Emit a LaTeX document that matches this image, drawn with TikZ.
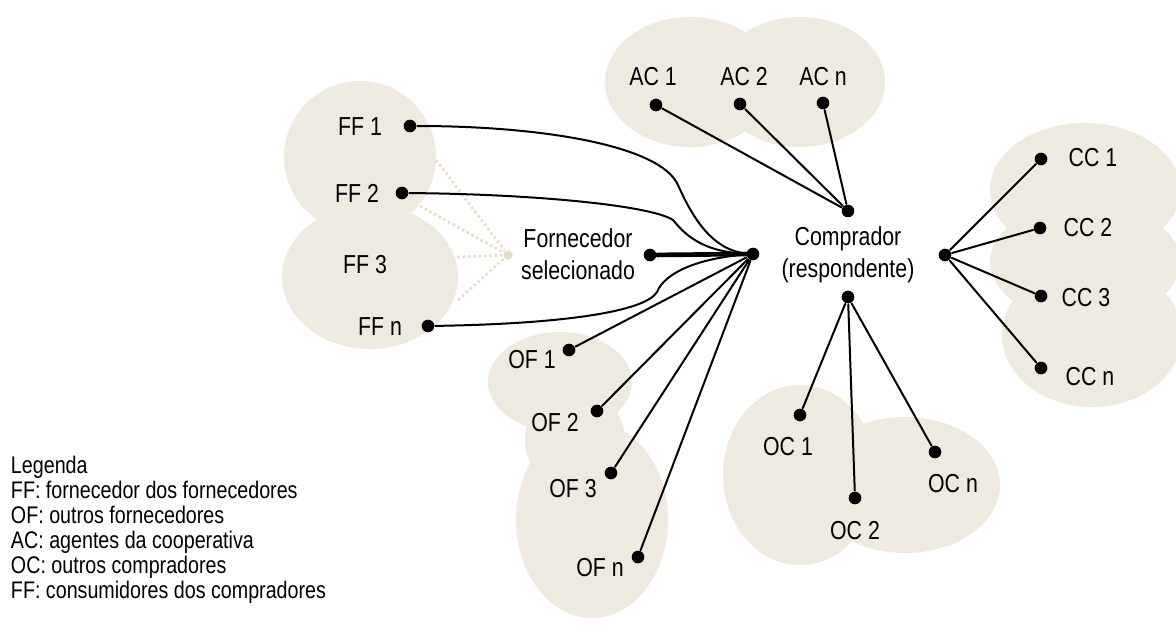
\documentclass[tikz,border=0pt]{standalone}
\usepackage{fontspec}
\setmainfont{Liberation Sans}[FakeStretch=0.82]
\definecolor{blob}{RGB}{238,234,223}
\definecolor{faint}{RGB}{228,221,200}
\begin{document}
\begin{tikzpicture}[x=0.75pt,y=-0.75pt, line join=round, line cap=round, line width=1.5pt,
		font=\fontsize{19.5}{24}\selectfont,
		dot/.style={circle,fill=black,inner sep=0pt,minimum size=9.5pt},
		area/.style={fill=blob,draw=none}]
	\useasboundingbox (0,0) rectangle (1176,635);
	% manchas de fundo
	\begin{scope}
		\clip (0,0) rectangle (1176,635);
		\fill[area] (360,157) circle (76);
		\fill[area] (370,277) ellipse (88 and 72);
		\fill[area] (690,82) ellipse (85 and 65);
		\fill[area] (800,82) ellipse (85 and 65);
		\fill[area] (1085,190) ellipse (95 and 67);
		\fill[area] (1085,262) ellipse (95 and 60);
		\fill[area] (1092,335) ellipse (90 and 72);
		\fill[area] (800,475) ellipse (77 and 90);
		\fill[area] (905,485) ellipse (95 and 68);
		\fill[area] (560,382) ellipse (72 and 50);
		\fill[area] (575,440) circle (50);
		\fill[area] (592,520) ellipse (76 and 98);
	\end{scope}
	% ligacoes pontilhadas
	\node[dot,fill=faint,minimum size=7pt] (fhub) at (508,255) {};
	\foreach \i/\x/\y in {1/436/160, 2/420/206, 3/457/257, 4/458/300}
	\coordinate (fe\i) at (\x,\y);
	\foreach \i in {1,...,4}
	\draw[faint,line width=2pt,line cap=butt,dash pattern=on 2pt off 2pt] (fe\i) -- (fhub);
	% pontos
	\foreach \n/\x/\y in {ff1/410/126, ff2/402/193, ffn/428/326, forn/650/255, hubL/753/254,
		ac1/656/105, ac2/740/104, acn/823/103, hubT/848/211, hubB/848/297, hubR/945/255,
		oc1/800/415, oc2/855/498, ocn/935/452, cc1/1041/159, cc2/1040/228, cc3/1041/296,
		ccn/1041/368, of1/569/350, of2/597/411, of3/611/473, ofn/638/557}
	\node[dot] (\n) at (\x,\y) {};
	% rotulos
	\foreach \n/\x/\y/\t in {ff1/360/127/FF 1, ff2/357/193/FF 2, ff3/365/265/FF 3, ffn/380/327/FF n,
		ac1/653/77/AC 1, ac2/744/77/AC 2, acn/823/77/AC n,
		cc1/1093/158/CC 1, cc2/1088/228/CC 2, cc3/1086/298/CC 3, ccn/1090/377/CC n,
		oc1/788/447/OC 1, oc2/855/531/OC 2, ocn/953/484/OC n,
		of1/532/360/OF 1, of2/555/423/OF 2, of3/573/489/OF 3, ofn/600/568/OF n}
	\node (lbl-\n) at (\x,\y) {\t};
	\node[align=center] (forntxt) at (578,254) {Fornecedor\\selecionado};
	\node[align=center] (comptxt) at (848,255) {Comprador\\(respondente)};
	% fornecedores dos fornecedores
	\draw (ff1) .. controls (540,126) and (660,145) .. (678,185) .. controls (690,212) and (710,250) .. (hubL);
	\draw (ff2) .. controls (530,194) and (650,205) .. (673,220) .. controls (683,232) and (700,252) .. (hubL);
	\draw (ffn) .. controls (560,324) and (645,312) .. (657,292) .. controls (665,272) and (700,258) .. (hubL);
	\draw[line width=3.5pt] (forn) -- (hubL);
	\foreach \n in {of1,of2,of3,ofn}
	\draw (hubL) -- (\n);
	\foreach \n in {ac1,ac2,acn}
	\draw (hubT) -- (\n);
	\foreach \n in {oc1,oc2,ocn}
	\draw (hubB) -- (\n);
	\foreach \n in {cc1,cc2,cc3,ccn}
	\draw (hubR) -- (\n);
	% legenda
	\node[anchor=north west,align=left,inner sep=0pt,font=\fontsize{18}{18.75}\selectfont] (legenda) at (10,455)
	{Legenda\\FF: fornecedor dos fornecedores\\OF: outros fornecedores\\AC: agentes da cooperativa\\OC: outros compradores\\FF: consumidores dos compradores};
\end{tikzpicture}
\end{document}
